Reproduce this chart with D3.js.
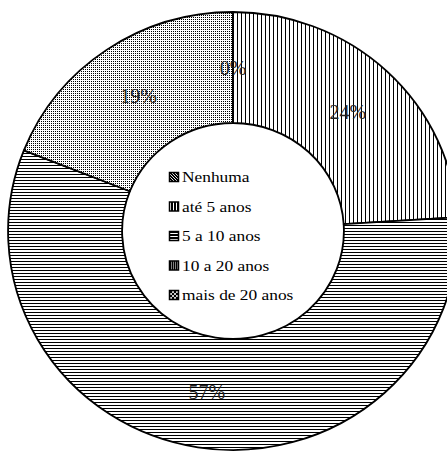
<!DOCTYPE html>
<html>
<head>
<meta charset="utf-8">
<script src="https://cdn.jsdelivr.net/npm/d3@7"></script>
<style>
  body { margin: 0; background: #fff; }
  svg { display: block; }
  text { font-family: "Liberation Serif", "Times New Roman", Times, serif; }
</style>
</head>
<body>
<script>
// data (order: clockwise from 12 o'clock)
const categories = ["Nenhuma", "até 5 anos", "5 a 10 anos", "10 a 20 anos", "mais de 20 anos"];
const values = [0, 24, 57, 19, 0];
const percentLabels = ["0%", "24%", "57%", "19%", "0%"];

const svgWidth = 447;
const svgHeight = 453;

// ring geometry (original chart is a little wider than tall)
const cx = 233, cy = 231;
const outerR = 219, innerR = 108;
const stretchX = 1.027;

const svg = d3.select("body")
  .append("svg")
  .attr("width", svgWidth)
  .attr("height", svgHeight);

const defs = svg.append("defs");

// ring fill patterns (ring group is scaled, so the pattern is un-scaled back)
function ringPatterns() {
  const ptf = `scale(${1 / stretchX},1)`;
  // Nenhuma: diagonal hatch
  let p = defs.append("pattern").attr("id", "pat0r")
    .attr("patternUnits", "userSpaceOnUse").attr("width", 4).attr("height", 4)
    .attr("patternTransform", ptf);
  p.append("rect").attr("width", 4).attr("height", 4).attr("fill", "#fff");
  p.append("path").attr("d", "M-1,1 L1,-1 M0,4 L4,0 M3,5 L5,3")
    .attr("stroke", "#000").attr("stroke-width", 1.2);

  // até 5 anos: vertical lines
  p = defs.append("pattern").attr("id", "pat1r")
    .attr("patternUnits", "userSpaceOnUse").attr("width", 4).attr("height", 4)
    .attr("patternTransform", ptf);
  p.append("rect").attr("width", 4).attr("height", 4).attr("fill", "#fff");
  p.append("rect").attr("width", 1).attr("height", 4).attr("fill", "#000")
    .attr("shape-rendering", "crispEdges");

  // 5 a 10 anos: horizontal lines
  p = defs.append("pattern").attr("id", "pat2r")
    .attr("patternUnits", "userSpaceOnUse").attr("width", 4).attr("height", 3)
    .attr("patternTransform", ptf);
  p.append("rect").attr("width", 4).attr("height", 3).attr("fill", "#fff");
  p.append("rect").attr("width", 4).attr("height", 1).attr("fill", "#000")
    .attr("shape-rendering", "crispEdges");

  // 10 a 20 anos: fine dots
  p = defs.append("pattern").attr("id", "pat3r")
    .attr("patternUnits", "userSpaceOnUse").attr("width", 2).attr("height", 2)
    .attr("patternTransform", ptf);
  p.append("rect").attr("width", 2).attr("height", 2).attr("fill", "#fff");
  p.append("rect").attr("width", 1).attr("height", 1).attr("fill", "#000")
    .attr("shape-rendering", "crispEdges");

  // mais de 20 anos: cross hatch
  p = defs.append("pattern").attr("id", "pat4r")
    .attr("patternUnits", "userSpaceOnUse").attr("width", 4).attr("height", 4)
    .attr("patternTransform", ptf);
  p.append("rect").attr("width", 4).attr("height", 4).attr("fill", "#fff");
  p.append("path").attr("d", "M0,0 L4,4 M4,0 L0,4")
    .attr("stroke", "#000").attr("stroke-width", 1);
}

// legend swatch patterns: same motifs, drawn bolder like the original key
function legendPatterns() {
  let p = defs.append("pattern").attr("id", "pat0l")
    .attr("patternUnits", "userSpaceOnUse").attr("width", 3).attr("height", 3);
  p.append("rect").attr("width", 3).attr("height", 3).attr("fill", "#000");
  p.append("path").attr("d", "M0,0 L3,3").attr("stroke", "#fff").attr("stroke-width", 0.9);

  p = defs.append("pattern").attr("id", "pat1l")
    .attr("patternUnits", "userSpaceOnUse").attr("width", 3).attr("height", 3);
  p.append("rect").attr("width", 3).attr("height", 3).attr("fill", "#000");
  p.append("rect").attr("x", 1).attr("width", 1).attr("height", 3).attr("fill", "#fff")
    .attr("shape-rendering", "crispEdges");

  p = defs.append("pattern").attr("id", "pat2l")
    .attr("patternUnits", "userSpaceOnUse").attr("width", 3).attr("height", 3);
  p.append("rect").attr("width", 3).attr("height", 3).attr("fill", "#000");
  p.append("rect").attr("y", 1).attr("width", 3).attr("height", 1).attr("fill", "#fff")
    .attr("shape-rendering", "crispEdges");

  p = defs.append("pattern").attr("id", "pat3l")
    .attr("patternUnits", "userSpaceOnUse").attr("width", 2).attr("height", 2);
  p.append("rect").attr("width", 2).attr("height", 2).attr("fill", "#000");
  p.append("rect").attr("width", 1).attr("height", 1).attr("fill", "#fff")
    .attr("shape-rendering", "crispEdges");

  p = defs.append("pattern").attr("id", "pat4l")
    .attr("patternUnits", "userSpaceOnUse").attr("width", 4).attr("height", 4);
  p.append("rect").attr("width", 4).attr("height", 4).attr("fill", "#000");
  p.append("path").attr("d", "M0,0 L4,4 M4,0 L0,4")
    .attr("stroke", "#fff").attr("stroke-width", 0.8);
}
ringPatterns();
legendPatterns();

const pie = d3.pie().sort(null).value(d => d)(values);

const arc = d3.arc().innerRadius(innerR).outerRadius(outerR);
const labelArc = d3.arc().innerRadius((innerR + outerR) / 2).outerRadius((innerR + outerR) / 2);

const ring = svg.append("g")
  .attr("transform", `translate(${cx},${cy}) scale(${stretchX},1)`);

ring.selectAll("path.slice")
  .data(pie)
  .enter()
  .append("path")
  .attr("class", "slice")
  .attr("d", arc)
  .attr("fill", (d, i) => `url(#pat${i}r)`)
  .attr("stroke", "#000")
  .attr("stroke-width", 1.8)
  .attr("stroke-linejoin", "round");

// percent labels (zero slices share a spot, draw it once)
const seen = new Set();
const labelData = pie.map((d, i) => ({ d, i })).filter(o => {
  const c = labelArc.centroid(o.d);
  const key = Math.round(c[0]) + "," + Math.round(c[1]);
  if (seen.has(key)) return false;
  seen.add(key);
  return true;
});

svg.append("g").selectAll("text")
  .data(labelData)
  .enter()
  .append("text")
  .attr("x", o => cx + labelArc.centroid(o.d)[0] * stretchX)
  .attr("y", o => cy + labelArc.centroid(o.d)[1])
  .attr("dy", "0.35em")
  .attr("text-anchor", "middle")
  .attr("font-size", "20px")
  .attr("fill", "#222")
  .text(o => percentLabels[o.i]);

// legend in the hole
const legendX = 169, legendY = 182, legendStep = 29.5;
const legend = svg.append("g");

const items = legend.selectAll("g")
  .data(categories)
  .enter()
  .append("g")
  .attr("transform", (d, i) => `translate(${legendX},${legendY + i * legendStep})`);

items.append("rect")
  .attr("x", 0.5)
  .attr("y", -9.5)
  .attr("width", 9)
  .attr("height", 9)
  .attr("fill", (d, i) => `url(#pat${i}l)`)
  .attr("stroke", "#000")
  .attr("stroke-width", 1.5);

// the key text is drawn wider than normal in the original
items.append("text")
  .attr("x", 13)
  .attr("font-size", "14px")
  .attr("fill", "#000")
  .text(d => d)
  .each(function() {
    const w = this.getComputedTextLength();
    d3.select(this)
      .attr("textLength", w * 1.24)
      .attr("lengthAdjust", "spacingAndGlyphs");
  });
</script>
</body>
</html>
